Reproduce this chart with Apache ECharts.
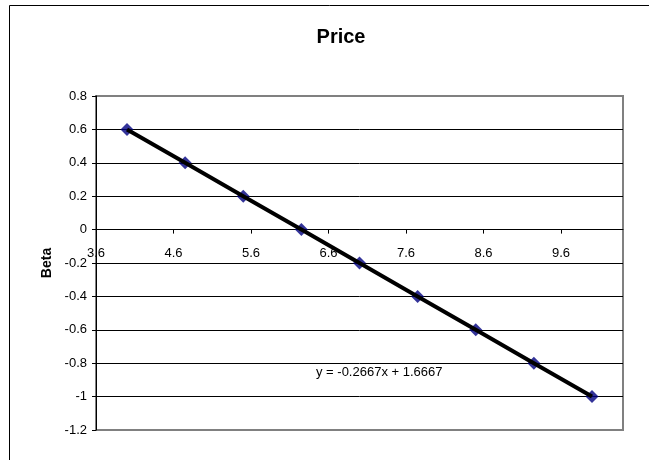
<!DOCTYPE html>
<html>
<head>
<meta charset="utf-8">
<script src="https://cdn.jsdelivr.net/npm/echarts@6/dist/echarts.min.js"></script>
<style>html,body{margin:0;padding:0;background:#fff}#c{width:649px;height:460px}</style>
</head>
<body>
<div id="c"></div>
<script>
const priceX = [4, 4.75, 5.5, 6.25, 7, 7.75, 8.5, 9.25, 10];
const betaY = [0.6, 0.4, 0.2, 0, -0.2, -0.4, -0.6, -0.8, -1];
const xMin = 3.6, xMax = 10.4, xStep = 1;
const yMin = -1.2, yMax = 0.8, yStep = 0.2;
const trendLabel = 'y = -0.2667x + 1.6667';
const titleText = 'Price';
const yName = 'Beta';

const pts = priceX.map((x, i) => [x, betaY[i]]);
const font = '"Liberation Sans", Arial, sans-serif';
const fmt = v => (Math.round(v * 10) / 10).toString();

const chart = echarts.init(document.getElementById('c'), null, {renderer: 'canvas'});
chart.setOption({
  animation: false,
  backgroundColor: '#fff',
  title: {
    text: titleText, left: 336, top: 22, textAlign: 'center',
    textStyle: {fontFamily: font, fontSize: 20, fontWeight: 'bold', color: '#000'}
  },
  grid: {
    left: 96, top: 96, right: 26, bottom: 30,
    show: true, borderColor: '#808080', borderWidth: 2, backgroundColor: 'transparent'
  },
  xAxis: {
    type: 'value', min: xMin, max: xMax, interval: xStep,
    axisLine: {show: true, onZero: false, lineStyle: {color: '#000', width: 1}},
    axisTick: {show: true, inside: false, length: 4, lineStyle: {color: '#000'}},
    axisLabel: {showMaxLabel: false, margin: 17, color: '#000', fontFamily: font, fontSize: 13, formatter: fmt},
    splitLine: {show: false}
  },
  yAxis: {
    type: 'value', min: yMin, max: yMax, interval: yStep,
    name: yName, nameLocation: 'middle', nameGap: 42, nameRotate: 90,
    nameTextStyle: {fontFamily: font, fontSize: 14, fontWeight: 'bold', color: '#000'},
    axisLine: {show: true, onZero: false, lineStyle: {color: '#000', width: 1}},
    axisTick: {show: true, inside: false, length: 4, lineStyle: {color: '#000'}},
    axisLabel: {margin: 9, color: '#000', fontFamily: font, fontSize: 13, formatter: fmt},
    splitLine: {show: true, showMinLine: false, showMaxLine: false, lineStyle: {color: '#000', width: 1}}
  },
  series: [
    {
      type: 'scatter', data: pts, symbol: 'diamond', symbolSize: 13,
      itemStyle: {color: '#000080'}, z: 3
    },
    {
      type: 'line', data: pts, showSymbol: false, symbol: 'none',
      lineStyle: {color: '#000', width: 4}, z: 4
    }
  ],
  graphic: [
    {type: 'rect', shape: {x: 9.5, y: 5.5, width: 700, height: 500},
     style: {fill: 'none', stroke: '#000', lineWidth: 1}, silent: true, z: 0},
    {type: 'text', left: 316, top: 366,
     style: {text: trendLabel, font: '13px ' + font, fill: '#000'}, z: 10}
  ]
});
// Move the x axis (line, ticks, labels) up to cross the y axis at zero, as in the source chart.
const zeroY = chart.convertToPixel({yAxisIndex: 0}, 0);
const bottomY = chart.convertToPixel({yAxisIndex: 0}, yMin);
chart.setOption({xAxis: {offset: zeroY - bottomY}});
</script>
</body>
</html>
